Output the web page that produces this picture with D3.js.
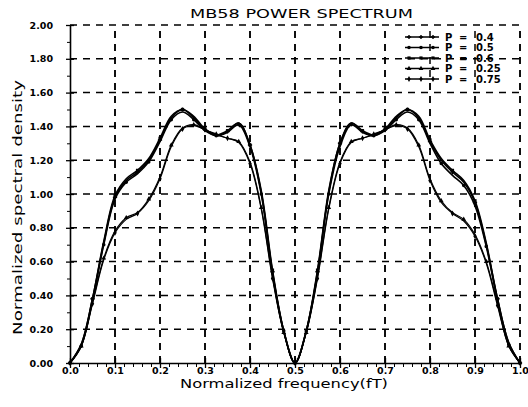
<!DOCTYPE html>
<html>
<head>
<meta charset="utf-8">
<script src="https://cdn.jsdelivr.net/npm/d3@7"></script>
<style>
body { margin: 0; background: #fff; }
text { font-family: "DejaVu Sans", sans-serif; fill: #000; }
</style>
</head>
<body>
<div id="my_dataviz"></div>
<script>
// normalized frequency (fT), one value per sample
var freq = [0, 0.025, 0.05, 0.075, 0.1, 0.125, 0.15, 0.175, 0.2, 0.225, 0.25,
            0.275, 0.3, 0.325, 0.35, 0.375, 0.4, 0.425, 0.45, 0.475, 0.5,
            0.525, 0.55, 0.575, 0.6, 0.625, 0.65, 0.675, 0.7, 0.725, 0.75,
            0.775, 0.8, 0.825, 0.85, 0.875, 0.9, 0.925, 0.95, 0.975, 1];

// normalized spectral density
var p40 = [0, 0.11, 0.38, 0.71, 0.98, 1.08, 1.13, 1.20, 1.32, 1.45, 1.50,
           1.45, 1.38, 1.345, 1.37, 1.42, 1.29, 1.01, 0.54, 0.19, 0,
           0.19, 0.54, 1.01, 1.30, 1.42, 1.37, 1.345, 1.38, 1.45, 1.50,
           1.45, 1.31, 1.20, 1.13, 1.07, 0.95, 0.70, 0.38, 0.12, 0];
var p50 = [0, 0.10, 0.37, 0.70, 0.97, 1.07, 1.12, 1.19, 1.31, 1.44, 1.485,
           1.44, 1.375, 1.345, 1.365, 1.41, 1.28, 1.00, 0.53, 0.19, 0,
           0.19, 0.53, 1.00, 1.28, 1.41, 1.365, 1.345, 1.375, 1.44, 1.485,
           1.44, 1.30, 1.18, 1.11, 1.05, 0.93, 0.69, 0.37, 0.11, 0];
var p60 = [0, 0.11, 0.38, 0.72, 0.99, 1.09, 1.14, 1.21, 1.33, 1.46, 1.50,
           1.46, 1.385, 1.35, 1.375, 1.42, 1.29, 1.02, 0.55, 0.19, 0,
           0.19, 0.55, 1.02, 1.30, 1.42, 1.375, 1.35, 1.385, 1.46, 1.50,
           1.46, 1.32, 1.21, 1.14, 1.08, 0.96, 0.71, 0.38, 0.12, 0];
var p25 = [0, 0.10, 0.36, 0.62, 0.78, 0.86, 0.89, 0.97, 1.10, 1.29, 1.39,
           1.41, 1.38, 1.355, 1.33, 1.31, 1.19, 0.92, 0.51, 0.18, 0,
           0.18, 0.51, 0.92, 1.19, 1.31, 1.33, 1.355, 1.38, 1.41, 1.39,
           1.29, 1.09, 0.96, 0.89, 0.85, 0.76, 0.60, 0.35, 0.10, 0];
var p75 = [0, 0.10, 0.35, 0.61, 0.77, 0.85, 0.885, 0.96, 1.09, 1.28, 1.385,
           1.405, 1.38, 1.35, 1.33, 1.305, 1.18, 0.91, 0.50, 0.18, 0,
           0.18, 0.50, 0.91, 1.18, 1.305, 1.33, 1.35, 1.38, 1.405, 1.385,
           1.28, 1.08, 0.95, 0.885, 0.84, 0.75, 0.59, 0.34, 0.10, 0];

var pLabels = ["0.4", "0.5", "0.6", "0.25", "0.75"];
var xTicks = [0, 0.1, 0.2, 0.3, 0.4, 0.5, 0.6, 0.7, 0.8, 0.9, 1.0];
var xTickLabels = ["0.0", "0.1", "0.2", "0.3", "0.4", "0.5", "0.6", "0.7", "0.8", "0.9", "1.0"];
var yTicks = [0, 0.2, 0.4, 0.6, 0.8, 1.0, 1.2, 1.4, 1.6, 1.8, 2.0];
var yTickLabels = ["0.00", "0.20", "0.40", "0.60", "0.80", "1.00", "1.20", "1.40", "1.60", "1.80", "2.00"];

var margin = {top: 25, right: 8, bottom: 44, left: 70},
    width = 528 - margin.left - margin.right,
    height = 407 - margin.top - margin.bottom;

var svg = d3.select("#my_dataviz")
  .append("svg")
  .attr("width", width + margin.left + margin.right)
  .attr("height", height + margin.top + margin.bottom)
  .append("g")
  .attr("transform", "translate(" + margin.left + "," + margin.top + ")");

var x = d3.scaleLinear().domain([0, 1]).range([0, width]);
var y = d3.scaleLinear().domain([0, 2]).range([height, 0]);

// dashed grid, the top and right borders are part of it
var grid = svg.append("g")
  .attr("stroke", "#000")
  .attr("stroke-width", 1.5)
  .attr("stroke-dasharray", "7,6");

grid.selectAll(".vgrid")
  .data(xTicks.slice(1))
  .enter().append("line")
  .attr("x1", function(d){ return x(d); })
  .attr("x2", function(d){ return x(d); })
  .attr("y1", height)
  .attr("y2", 0);

// legend box hides the vertical lines behind it
var legend = svg.append("g").attr("transform", "translate(" + (x(0.73) + 0.5) + ",3)");
legend.append("rect")
  .attr("x", 0).attr("y", 0)
  .attr("width", 114).attr("height", 54)
  .attr("fill", "#fff");

grid.raise();
grid.selectAll(".vgrid").remove();
var vg = svg.append("g")
  .attr("stroke", "#000")
  .attr("stroke-width", 1.5)
  .attr("stroke-dasharray", "7,6");
vg.selectAll("line")
  .data(xTicks.slice(1))
  .enter().append("line")
  .attr("x1", function(d){ return x(d); })
  .attr("x2", function(d){ return x(d); })
  .attr("y1", height)
  .attr("y2", function(d){ return (d > 0.75 && d < 0.95) ? 58 : 0; });
vg.lower();

grid.selectAll(".hgrid")
  .data(yTicks.slice(1))
  .enter().append("line")
  .attr("x1", 0)
  .attr("x2", width)
  .attr("y1", function(d){ return y(d); })
  .attr("y2", function(d){ return y(d); });

// axes
var xAxis = svg.append("g")
  .attr("transform", "translate(0," + height + ")")
  .call(d3.axisBottom(x).tickValues(xTicks)
    .tickFormat(function(d, i){ return xTickLabels[i]; })
    .tickSize(5).tickSizeOuter(0));
xAxis.selectAll(".tick line").attr("y1", -5).attr("stroke-width", 1.3);
xAxis.selectAll("text").attr("y", 4.5).attr("dy", "0.71em")
  .style("font-size", "9.5px").style("font-weight", "bold");
xAxis.select(".domain").attr("stroke-width", 1.6);

var xMinor = d3.range(0, 51).map(function(i){ return i / 50; })
  .filter(function(d, i){ return i % 5 != 0; });
svg.append("g")
  .attr("transform", "translate(0," + height + ")")
  .call(d3.axisBottom(x).tickValues(xMinor).tickFormat("").tickSize(4).tickSizeOuter(0))
  .call(function(g){ g.select(".domain").remove(); });

var yAxis = svg.append("g")
  .call(d3.axisLeft(y).tickValues(yTicks)
    .tickFormat(function(d, i){ return yTickLabels[i]; })
    .tickSize(4).tickSizeOuter(0));
yAxis.selectAll(".tick line").attr("x1", 4).attr("stroke-width", 1.3);
yAxis.selectAll("text").attr("x", -17)
  .style("font-size", "9.5px").style("font-weight", "bold");
yAxis.select(".domain").attr("stroke-width", 1.6);

svg.append("g")
  .call(d3.axisLeft(y).tickValues([0.1, 0.3, 0.5, 0.7, 0.9, 1.1, 1.3, 1.5, 1.7, 1.9])
    .tickFormat("").tickSize(3).tickSizeOuter(0))
  .call(function(g){ g.select(".domain").remove(); });

// series
var series = [
  {label: pLabels[0], values: p40, width: 1.6, sym: d3.symbolCross, off: 0},
  {label: pLabels[1], values: p50, width: 1.6, sym: d3.symbolCircle, off: 1},
  {label: pLabels[2], values: p60, width: 1.6, sym: d3.symbolSquare, off: 0},
  {label: pLabels[3], values: p25, width: 1.2, sym: d3.symbolTriangle, off: 1},
  {label: pLabels[4], values: p75, width: 1.2, sym: d3.symbolDiamond, off: 0}
];

var line = d3.line()
  .x(function(d, i){ return x(freq[i]); })
  .y(function(d){ return y(d); })
  .curve(d3.curveCatmullRom.alpha(0.5));

series.forEach(function(s){
  svg.append("path")
    .datum(s.values)
    .attr("fill", "none")
    .attr("stroke", "#000")
    .attr("stroke-width", s.width)
    .attr("d", line);

  svg.selectAll(null)
    .data(s.values.filter(function(d, i){ return (i + s.off) % 2 == 0; }))
    .enter().append("path")
    .attr("d", d3.symbol().type(s.sym).size(10))
    .attr("fill", "#000")
    .attr("transform", function(d, i){
      return "translate(" + x(freq[i * 2 + s.off]) + "," + y(d) + ")";
    });
});

// legend entries
series.forEach(function(s, i){
  var row = legend.append("g").attr("transform", "translate(0," + (9 + i * 10.5) + ")");
  row.append("line")
    .attr("x1", 6).attr("x2", 40)
    .attr("stroke", "#000").attr("stroke-width", 1.5);
  [10, 22, 34].forEach(function(px){
    row.append("path")
      .attr("d", d3.symbol().type(s.sym).size(10))
      .attr("transform", "translate(" + px + ",0)");
  });
  row.append("text").attr("x", 46).attr("dy", "0.35em")
    .style("font-size", "10px").style("font-weight", "bold").text("P");
  row.append("text").attr("x", 60).attr("dy", "0.35em")
    .style("font-size", "10px").style("font-weight", "bold").text("=");
  row.append("text").attr("x", 77).attr("dy", "0.35em")
    .style("font-size", "10px").style("font-weight", "bold").text(s.label);
});

// titles
svg.append("text")
  .attr("x", 120).attr("y", -7)
  .attr("textLength", 223).attr("lengthAdjust", "spacingAndGlyphs")
  .style("font-size", "12.5px")
  .text("MB58 POWER SPECTRUM");

svg.append("text")
  .attr("x", 110).attr("y", height + 25)
  .attr("textLength", 208).attr("lengthAdjust", "spacingAndGlyphs")
  .style("font-size", "12.5px")
  .text("Normalized frequency(fT)");

svg.append("text")
  .attr("transform", "translate(-48," + (height - 28) + ") rotate(-90)")
  .attr("textLength", 255).attr("lengthAdjust", "spacingAndGlyphs")
  .style("font-size", "12.5px")
  .text("Normalized spectral density");
</script>
</body>
</html>
